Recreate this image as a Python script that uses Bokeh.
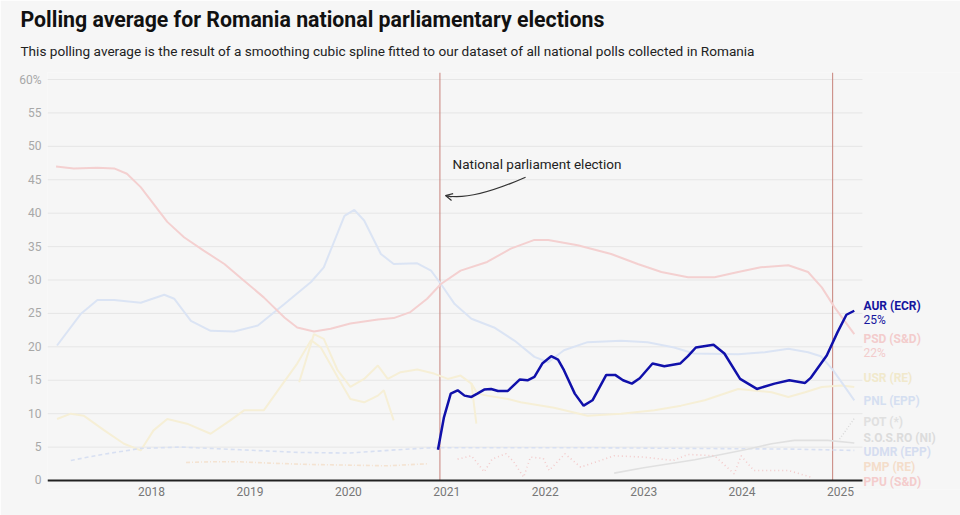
from bokeh.plotting import figure
from bokeh.models import Label, Title, Range1d, FixedTicker, Arrow, OpenHead
from bokeh.embed import file_html
from bokeh.resources import INLINE

# ---------------- data ----------------
TITLE = "Polling average for Romania national parliamentary elections"
SUBTITLE = ("This polling average is the result of a smoothing cubic spline fitted to our "
            "dataset of all national polls collected in Romania")

year_ticks = [2018, 2019, 2020, 2021, 2022, 2023, 2024, 2025]
year_labels = ["2018", "2019", "2020", "2021", "2022", "2023", "2024", "2025"]
y_ticks = [0, 5, 10, 15, 20, 25, 30, 35, 40, 45, 50, 55, 60]
y_tick_labels = ["0", "5", "10", "15", "20", "25", "30", "35", "40", "45", "50", "55", "60%"]

elections = [2020.93, 2024.92]
election_note = "National parliament election"

aur_x = [2020.91, 2020.97, 2021.04, 2021.11, 2021.18, 2021.25, 2021.31, 2021.38, 2021.45,
         2021.52, 2021.62, 2021.74, 2021.82, 2021.89, 2021.97, 2022.06, 2022.13, 2022.19,
         2022.30, 2022.39, 2022.48, 2022.62, 2022.71, 2022.79, 2022.88, 2022.96, 2023.09,
         2023.21, 2023.37, 2023.45, 2023.53, 2023.71, 2023.82, 2023.98, 2024.15, 2024.33,
         2024.48, 2024.64, 2024.70, 2024.86, 2024.97, 2025.06, 2025.14]
aur_y = [4.6, 9.4, 13.0, 13.5, 12.7, 12.5, 13.0, 13.6, 13.7, 13.4, 13.4, 15.1, 15.0, 15.5,
         17.5, 18.6, 18.1, 16.5, 13.0, 11.2, 12.0, 15.8, 15.8, 15.0, 14.5, 15.3, 17.5, 17.1,
         17.5, 18.6, 19.9, 20.3, 19.0, 15.2, 13.7, 14.5, 15.0, 14.6, 15.4, 18.7, 22.2, 24.8,
         25.4]

psd_x = [2017.03, 2017.21, 2017.45, 2017.62, 2017.75, 2017.89, 2018.02, 2018.16, 2018.33,
         2018.53, 2018.74, 2018.94, 2019.14, 2019.35, 2019.48, 2019.65, 2019.82, 2020.02,
         2020.30, 2020.46, 2020.63, 2020.80, 2020.94, 2021.14, 2021.41, 2021.65, 2021.89,
         2022.03, 2022.33, 2022.67, 2022.94, 2023.18, 2023.45, 2023.72, 2023.96, 2024.19,
         2024.47, 2024.67, 2024.81, 2024.94, 2025.14]
psd_y = [47.0, 46.7, 46.8, 46.7, 45.9, 43.9, 41.4, 38.7, 36.4, 34.4, 32.4, 29.9, 27.4, 24.4,
         22.9, 22.3, 22.7, 23.5, 24.1, 24.3, 25.2, 27.2, 29.4, 31.4, 32.7, 34.7, 36.0, 36.0,
         35.2, 33.9, 32.4, 31.2, 30.4, 30.4, 31.2, 31.9, 32.2, 31.2, 28.9, 25.9, 21.9]

pnl_x = [2017.04, 2017.28, 2017.45, 2017.62, 2017.89, 2018.13, 2018.23, 2018.40, 2018.60,
         2018.84, 2019.08, 2019.35, 2019.62, 2019.75, 2019.96, 2020.06, 2020.16, 2020.33,
         2020.46, 2020.70, 2020.84, 2020.94, 2021.08, 2021.25, 2021.48, 2021.69, 2021.89,
         2022.03, 2022.19, 2022.43, 2022.77, 2023.04, 2023.31, 2023.51, 2023.96, 2024.23,
         2024.47, 2024.67, 2024.80, 2024.92, 2025.03, 2025.14]
pnl_y = [20.2, 24.9, 27.0, 27.0, 26.6, 27.8, 27.2, 23.9, 22.4, 22.3, 23.2, 26.4, 29.7, 31.9,
         39.6, 40.5, 38.9, 33.9, 32.4, 32.5, 31.4, 29.4, 26.4, 24.2, 22.9, 20.9, 18.5, 17.7,
         19.5, 20.7, 20.9, 20.7, 19.9, 19.0, 18.9, 19.2, 19.7, 19.2, 18.6, 16.6, 14.3, 12.0]

usr_x = [2017.04, 2017.18, 2017.31, 2017.52, 2017.72, 2017.89, 2018.02, 2018.16, 2018.36,
         2018.60, 2018.80, 2018.94, 2019.14, 2019.31, 2019.48, 2019.62, 2019.72, 2019.89,
         2020.02, 2020.16, 2020.30, 2020.36, 2020.46]
usr_y = [9.2, 10.0, 9.7, 7.5, 5.5, 4.5, 7.5, 9.2, 8.5, 7.0, 9.0, 10.5, 10.5, 14.0, 17.5,
         21.0, 19.9, 15.5, 12.2, 11.7, 12.7, 13.5, 9.0]

usr_plus_x = [2019.50, 2019.65, 2019.75, 2019.89, 2020.02, 2020.16, 2020.30, 2020.40,
              2020.53, 2020.70, 2020.87, 2021.01, 2021.14, 2021.25, 2021.30]
usr_plus_y = [14.7, 21.9, 21.2, 16.5, 14.0, 15.2, 17.2, 15.2, 16.2, 16.6, 16.0, 15.2, 15.7,
              14.5, 8.5]

usr_late_x = [2021.25, 2021.31, 2021.41, 2021.62, 2021.75, 2022.09, 2022.43, 2022.77,
              2023.11, 2023.38, 2023.62, 2023.96, 2024.30, 2024.47, 2024.64, 2024.81,
              2025.01, 2025.14]
usr_late_y = [14.5, 13.0, 12.7, 12.2, 11.7, 10.9, 9.7, 10.0, 10.5, 11.2, 12.0, 13.7, 13.2,
              12.5, 13.2, 14.0, 14.2, 14.0]

udmr_x = [2017.18, 2017.50, 2017.89, 2018.30, 2018.90, 2019.50, 2020.00, 2020.50, 2020.85,
          2021.50, 2022.50, 2023.50, 2024.50, 2025.14]
udmr_y = [3.0, 3.9, 4.8, 5.0, 4.6, 4.2, 4.1, 4.6, 4.9, 4.9, 4.9, 4.8, 4.7, 4.5]

sos_x = [2022.70, 2023.00, 2023.52, 2024.03, 2024.30, 2024.53, 2024.87, 2025.14]
sos_y = [1.1, 1.9, 3.1, 4.6, 5.5, 6.0, 6.0, 5.6]

pot_x = [2024.99, 2025.06, 2025.14]
pot_y = [6.2, 7.6, 9.3]

ppu_x = [2021.11, 2021.25, 2021.38, 2021.46, 2021.60, 2021.68, 2021.78, 2021.85, 2021.98,
         2022.04, 2022.20, 2022.36, 2022.70, 2023.00, 2023.30, 2023.45, 2023.72, 2023.92,
         2023.99, 2024.12, 2024.47, 2024.70]
ppu_y = [3.2, 3.7, 1.3, 3.2, 4.0, 2.8, 0.5, 3.5, 3.3, 1.5, 4.0, 2.0, 3.7, 3.5, 3.0, 3.9, 3.7,
         1.0, 3.7, 1.5, 1.5, 0.5]

pmp_x = [2018.35, 2018.60, 2018.90, 2019.20, 2019.60, 2020.00, 2020.40, 2020.80]
pmp_y = [2.7, 2.8, 2.8, 2.6, 2.4, 2.3, 2.2, 2.5]

party_labels = ["AUR (ECR)", "PSD (S&D)", "USR (RE)", "PNL (EPP)", "POT (*)",
                "S.O.S.RO (NI)", "UDMR (EPP)", "PMP (RE)", "PPU (S&D)"]
last_values = {"AUR (ECR)": "25%", "PSD (S&D)": "22%"}

# ---------------- layout / style ----------------
BG = "#f6f6f6"
FONT = "Roboto"
X0, X1 = 2016.943, 2025.223     # plotted area (grid / baseline extent)
XR = 2026.219                   # frame right edge (room for labels)
YB, YTOP = -1.347, 61.05        # small room under 0 for the lowest label
label_y = [26.04, 21.1, 15.41, 11.97, 8.68, 6.43, 4.19, 1.95, -0.15]
label_colors = ["#15159e", "#f3cccc", "#f1e9cc", "#d5dff1", "#e0e0e0", "#dcdcdc",
                "#d5ddf0", "#f4ddca", "#f4cccc"]

p = figure(width=960, height=515, output_backend="svg", toolbar_location=None, title=None,
           x_range=Range1d(X0, XR), y_range=Range1d(YB, YTOP),
           background_fill_color=BG, border_fill_color=BG, outline_line_color=None,
           min_border_left=47, min_border_right=0, min_border_top=72,
           min_border_bottom=26)

p.add_layout(Title(text=SUBTITLE, align="left", offset=-27, text_font=FONT,
                   text_font_size="13.6px", text_font_style="normal",
                   vertical_align="top", standoff=23,
                   text_color="#222222"), "above")
p.add_layout(Title(text=TITLE, align="left", offset=-27, text_font=FONT,
                   text_font_size="21.3px", text_font_style="bold", standoff=0,
                   text_color="#111111"), "above")

p.xgrid.grid_line_color = None
p.ygrid.grid_line_color = None

p.yaxis.ticker = FixedTicker(ticks=y_ticks)
p.yaxis.major_label_overrides = dict(zip(y_ticks, y_tick_labels))
p.yaxis.axis_line_color = None
p.yaxis.major_tick_line_color = None
p.yaxis.minor_tick_line_color = None
p.yaxis.major_tick_out = 0
p.yaxis.major_label_standoff = 6
p.yaxis.major_label_text_color = "#a8a8a8"
p.yaxis.major_label_text_font = FONT
p.yaxis.major_label_text_font_size = "12px"

p.xaxis.ticker = FixedTicker(ticks=year_ticks)
p.xaxis.major_label_overrides = dict(zip(year_ticks, year_labels))
p.xaxis.axis_line_color = None
p.xaxis.major_tick_line_color = None
p.xaxis.minor_tick_line_color = None
p.xaxis.major_tick_out = 0
p.xaxis.major_label_standoff = -3
p.xaxis.major_label_text_color = "#777777"
p.xaxis.major_label_text_font = FONT
p.xaxis.major_label_text_font_size = "12px"

# horizontal grid lines limited to the plotted area
n = len(y_ticks)
p.segment(x0=[X0] * n, y0=y_ticks, x1=[X1] * n, y1=y_ticks,
          line_color="#e6e6e6", line_width=1)

# election markers
p.segment(x0=elections, y0=[0] * len(elections), x1=elections, y1=[YTOP] * len(elections),
          line_color="#c8837b", line_width=1)

# faded party lines
p.line(usr_x, usr_y, line_color="#f6efd6", line_width=2)
p.line(usr_plus_x, usr_plus_y, line_color="#f6efd6", line_width=2)
p.line(usr_late_x, usr_late_y, line_color="#f6efd6", line_width=2)
p.line(pnl_x, pnl_y, line_color="#dbe4f4", line_width=2)
p.line(psd_x, psd_y, line_color="#f4d0d0", line_width=2)
p.line(udmr_x, udmr_y, line_color="#d8e0f2", line_width=1.6, line_dash="4 3")
p.line(sos_x, sos_y, line_color="#e0e0e0", line_width=1.6)
p.line(pot_x, pot_y, line_color="#d8d8d8", line_width=1.4, line_dash="1 2")
p.line(ppu_x, ppu_y, line_color="#f3caca", line_width=1.6, line_dash="1 3")
p.line(pmp_x, pmp_y, line_color="#f4e3d2", line_width=1.6, line_dash="4 2 1 2")

# baseline
p.segment(x0=[X0], y0=[0], x1=[X1], y1=[0], line_color="#222222", line_width=1.8)

# highlighted party
p.line(aur_x, aur_y, line_color="#1010aa", line_width=2.5)

# right-hand labels
for name, ly, col in zip(party_labels, label_y, label_colors):
    p.add_layout(Label(x=X1, y=ly, x_offset=1, text=name, text_font=FONT,
                       text_font_size="12px", text_font_style="bold",
                       text_baseline="middle", text_color=col))
    if name in last_values:
        p.add_layout(Label(x=X1, y=ly, x_offset=1, y_offset=-14,
                           text=last_values[name], text_font=FONT,
                           text_font_size="12px", text_baseline="middle",
                           text_color=col))

# election annotation
p.add_layout(Label(x=2021.058, y=47.43, text=election_note, text_font=FONT,
                   text_font_size="13.5px", text_baseline="middle",
                   text_color="#222222"))
p.quadratic(x0=[2021.80], y0=[45.38], x1=[2020.987], y1=[42.65],
            cx=[2021.241], cy=[41.75], line_color="#333333", line_width=1.2)
p.add_layout(Arrow(end=OpenHead(size=7, line_width=1.2, line_color="#333333"),
                   x_start=2021.048, y_start=42.44, x_end=2020.987, y_end=42.65,
                   line_color="#333333", line_width=1.2))

open("out.html", "w").write(file_html(p, INLINE, title="Romania polling average"))
